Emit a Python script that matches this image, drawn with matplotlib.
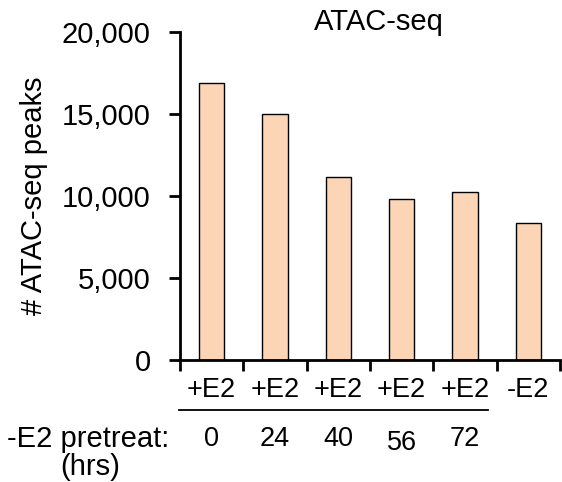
import matplotlib
matplotlib.use("Agg")
import matplotlib.pyplot as plt
from matplotlib.transforms import blended_transform_factory
from matplotlib.ticker import FuncFormatter

plt.rcParams['font.family'] = ['Liberation Sans', 'DejaVu Sans']

# peak counts per condition
treatments = ['+E2', '+E2', '+E2', '+E2', '+E2', '-E2']
pretreat_hrs = ['0', '24', '40', '56', '72']
peaks = [16900, 15000, 11150, 9820, 10250, 8350]

fig = plt.figure(figsize=(5.62, 4.82), dpi=100)
ax = fig.add_axes([0.3203, 0.2531, 0.6761, 0.6805])

pos = [i + 0.5 for i in range(len(peaks))]
ax.bar(pos, peaks, width=0.4, color='#fbd5b5', edgecolor='black', linewidth=1.0)

ax.set_xlim(0, 6)
ax.set_ylim(0, 20000)
ax.set_xticks(range(7))
ax.set_xticklabels([])
ax.set_yticks([0, 5000, 10000, 15000, 20000])
ax.yaxis.set_major_formatter(FuncFormatter(lambda v, p: f'{int(v):,}'))
ax.tick_params(axis='both', direction='out', length=8, width=2, labelsize=21)
ax.tick_params(axis='y', pad=13)
for s in ('top', 'right'):
    ax.spines[s].set_visible(False)
for s in ('left', 'bottom'):
    ax.spines[s].set_linewidth(2)

ax.set_ylabel('# ATAC-seq peaks', fontsize=21, labelpad=10)
fig.text(0.675, 0.955, 'ATAC-seq', fontsize=21, ha='center', va='center')

# condition labels under the axis
tr = blended_transform_factory(ax.transData, fig.transFigure)
for x, t in zip(pos, treatments):
    ax.text(x, 0.19, t, transform=tr, fontsize=19.5, ha='center', va='center')
ax.plot([pos[0] - 0.52, pos[4] + 0.36], [0.149, 0.149], transform=tr,
        color='black', linewidth=1.3, clip_on=False)
for x, h in zip(pos, pretreat_hrs):
    y = 0.081 if h == '56' else 0.089
    ax.text(x, y, h, transform=tr, fontsize=19.5, ha='center', va='center')
fig.text(0.157, 0.089, '-E2 pretreat:', fontsize=21, ha='center', va='center')
fig.text(0.16, 0.031, '(hrs)', fontsize=21, ha='center', va='center')

fig.savefig('out.png', dpi=100)
